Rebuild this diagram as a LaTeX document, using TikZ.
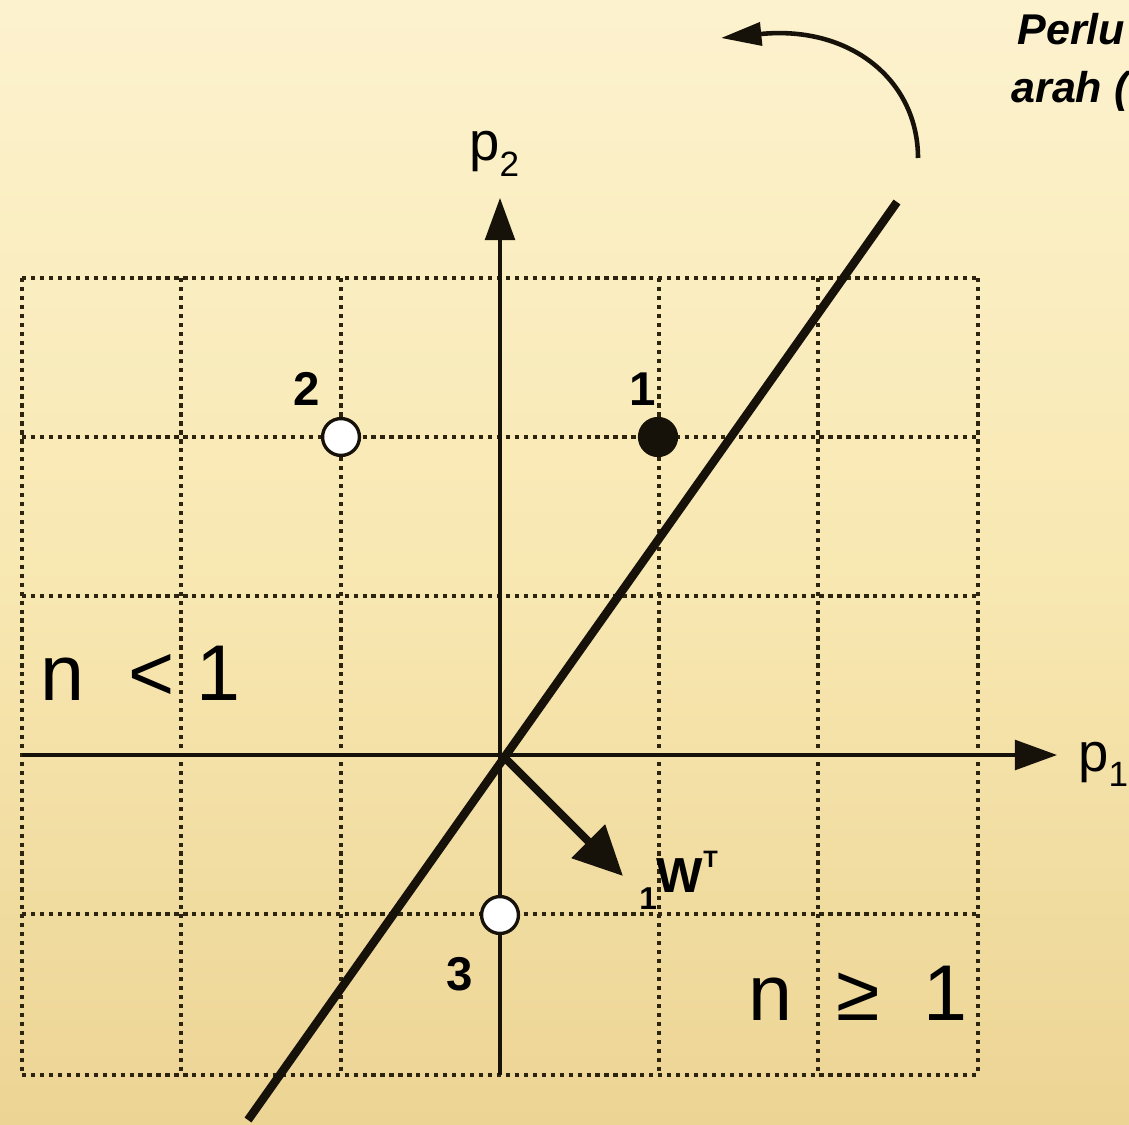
\documentclass[tikz,border=0pt]{standalone}
\usepackage{fontspec}
\setmainfont{Liberation Sans}
\usetikzlibrary{arrows.meta}
\definecolor{ink}{RGB}{22,18,10}
\definecolor{gridink}{RGB}{45,36,16}
\definecolor{bgtop}{RGB}{252,242,206}
\definecolor{bgmid}{RGB}{248,232,178}
\definecolor{bgbot}{RGB}{236,212,148}
\tikzset{
  gridline/.style={gridink, line width=2pt, dash pattern=on 2.4pt off 2.7pt},
  axisline/.style={ink, line width=1.8pt, -{Triangle[length=24pt,width=17pt]}},
  boundary/.style={ink, line width=4.8pt},
  weightvec/.style={ink, line width=4.5pt, -{Triangle[length=28pt,width=26pt]}},
  turnarrow/.style={ink, line width=2.6pt, -{Triangle[length=23pt,width=13pt]}},
  openpt/.style={circle, draw=ink, fill=white, line width=1.9pt, minimum size=21pt, inner sep=0pt},
  fullpt/.style={circle, draw=ink, fill=ink, line width=1.9pt, minimum size=21pt, inner sep=0pt},
  ptlabel/.style={anchor=base, inner sep=0pt, font=\fontsize{27}{29}\selectfont\bfseries},
  region/.style={anchor=base west, inner sep=0pt, font=\fontsize{45}{50}\selectfont},
  axlabel/.style={anchor=base west, inner sep=0pt, font=\fontsize{31}{34}\selectfont},
  notetext/.style={anchor=base west, inner sep=0pt, font=\fontsize{24.5}{28}\selectfont\bfseries\itshape},
}
\begin{document}
\begin{tikzpicture}[x=0.02cm,y=-0.02cm]
\useasboundingbox (0,0) rectangle (1129,1125);
\clip (0,0) rectangle (1129,1125);
\shade[top color=bgtop, bottom color=bgmid] (0,0) rectangle (1129,563);
\shade[top color=bgmid, bottom color=bgbot] (0,562) rectangle (1129,1125);

% grid
\foreach \x in {22,181,341,500,659,818,978}
  \draw[gridline] (\x,278) -- (\x,1075);
\foreach \y in {278,437,596,755,914,1075}
  \draw[gridline] (22,\y) -- (978,\y);

% axes
\coordinate (O) at (500,755);
\coordinate (xstart) at (22,755);
\coordinate (xend) at (1057,755);
\coordinate (ystart) at (500,1075);
\coordinate (yend) at (500,198);
\draw[axisline] (xstart) -- (xend);
\draw[axisline] (ystart) -- (yend);

% decision boundary
\coordinate (dA) at (248,1120);
\coordinate (dB) at (897,202);
\draw[boundary] (dA) -- (dB);

% weight vector
\coordinate (wO) at (504,757);
\coordinate (wT) at (623,876);
\draw[weightvec] (wO) -- (wT);

% rotation arrow
\coordinate (cA) at (918,158);
\coordinate (cB) at (721,38);
\draw[turnarrow] (cA) .. controls (918,80) and (850,25) .. (cB);

% points
\node[fullpt] (p1) at (658,437) {};
\node[openpt] (p2) at (341,437) {};
\node[openpt] (p3) at (500,915) {};
\node[ptlabel] (l1) at (643,405) {1};
\node[ptlabel] (l2) at (307,405) {2};
\node[ptlabel] (l3) at (460,990) {3};

% labels
\node[axlabel] (p2lab) at (469,161) {p\raisebox{-9pt}{\fontsize{20}{22}\selectfont 2}};
\node[axlabel] (p1lab) at (1078,771) {p\raisebox{-9pt}{\fontsize{20}{22}\selectfont 1}};
\node[region] (nlt) at (40,700) {n\ \ <\ 1};
\node[region] (nge) at (748,1020) {n\ \ ≥\ \ 1};
\node[anchor=base west, inner sep=0pt, font=\fontsize{28}{30}\selectfont\bfseries] (wlab) at (639,892)
  {\raisebox{-10pt}{\fontsize{18}{20}\selectfont\bfseries 1}W\raisebox{14pt}{\fontsize{13.5}{15}\selectfont\bfseries T}};
\node[notetext] (note1) at (1017,45) {Perlu};
\node[notetext] (note2) at (1011,103) {arah (};
\end{tikzpicture}
\end{document}
